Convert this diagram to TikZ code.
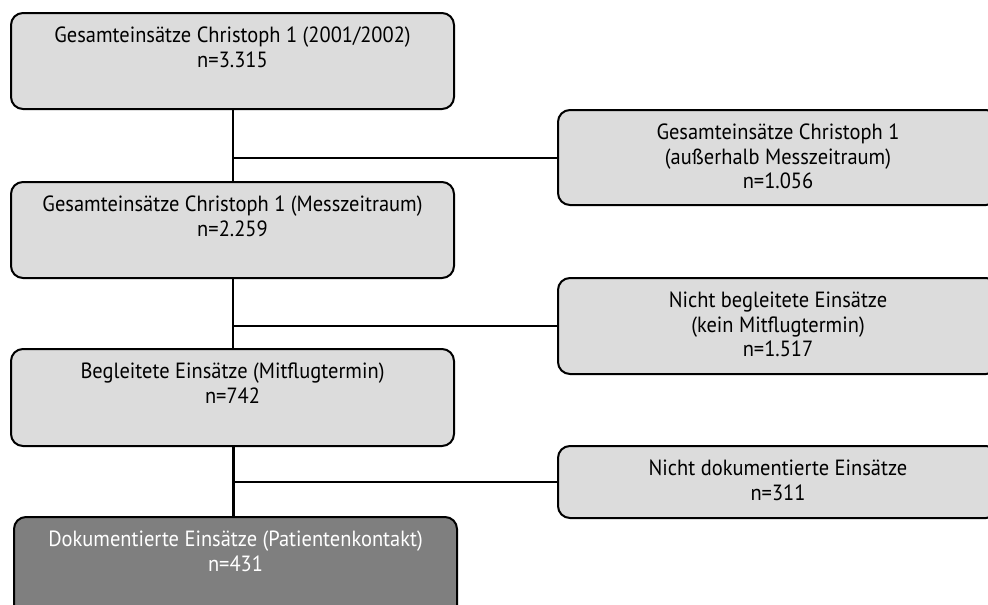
\documentclass[tikz,border=0pt]{standalone}
\usepackage{fontspec}
\setmainfont{PT Sans}[FakeStretch=0.93]
\definecolor{boxgray}{HTML}{DCDCDC}
\definecolor{darkgray}{HTML}{7F7F7F}
\begin{document}
\begin{tikzpicture}[x=1pt,y=-1pt,
  box/.style={draw=black, line width=2pt, rounded corners=12pt, fill=boxgray,
    anchor=north west, inner sep=0pt, minimum width=443pt, minimum height=96pt},
  rbox/.style={box, minimum width=440pt},
  darkbox/.style={box, fill=darkgray},
  txt/.style={anchor=north, align=center, inner sep=0pt, font=\fontsize{22}{24.5}\selectfont},
  conn/.style={line width=2pt}]
\useasboundingbox (0,0) rectangle (988,605);
\clip (0,0) rectangle (988,605);
% boxes
\node[box] (b1) at (10,12) {};
\node[rbox, minimum height=95pt] (b2) at (557,109) {};
\node[box] (b3) at (10,181) {};
\node[rbox] (b4) at (557,277) {};
\node[box, minimum height=97pt] (b5) at (10,348) {};
\node[rbox, minimum height=72pt] (b6) at (557,445) {};
\node[darkbox, minimum height=110pt] (b7) at (13,516) {};
% texts
\node[txt] (t1) at ([yshift=-15pt]b1.north) {Gesamteinsätze Christoph 1 (2001/2002)\\n=3.315};
\node[txt] (t2) at ([yshift=-15pt]b2.north) {Gesamteinsätze Christoph 1\\(außerhalb Messzeitraum)\\n=1.056};
\node[txt] (t3) at ([yshift=-15pt]b3.north) {Gesamteinsätze Christoph 1 (Messzeitraum)\\n=2.259};
\node[txt] (t4) at ([yshift=-15pt]b4.north) {Nicht begleitete Einsätze\\(kein Mitflugtermin)\\n=1.517};
\node[txt] (t5) at ([yshift=-15pt]b5.north) {Begleitete Einsätze (Mitflugtermin)\\n=742};
\node[txt] (t6) at ([yshift=-15pt]b6.north) {Nicht dokumentierte Einsätze\\n=311};
\node[txt, text=white] (t7) at ([yshift=-15pt]b7.north) {Dokumentierte Einsätze (Patientenkontakt)\\n=431};
% connectors
\coordinate (j1) at (b1.south |- b2.west);
\coordinate (j2) at (b3.south |- b4.west);
\coordinate (j3) at (b5.south |- b6.west);
\draw[conn] (b1.south) -- (b1.south |- b3.north);
\draw[conn] (j1) -- (b2.west);
\draw[conn] (b3.south) -- (b3.south |- b5.north);
\draw[conn] (j2) -- (b4.west);
\draw[conn] (b5.south) -- (b5.south |- b7.north);
\draw[conn] ([xshift=1.5pt]b5.south) -- ([xshift=1.5pt]b5.south |- b7.north);
\draw[conn] (j3) -- (b6.west);
\end{tikzpicture}
\end{document}
